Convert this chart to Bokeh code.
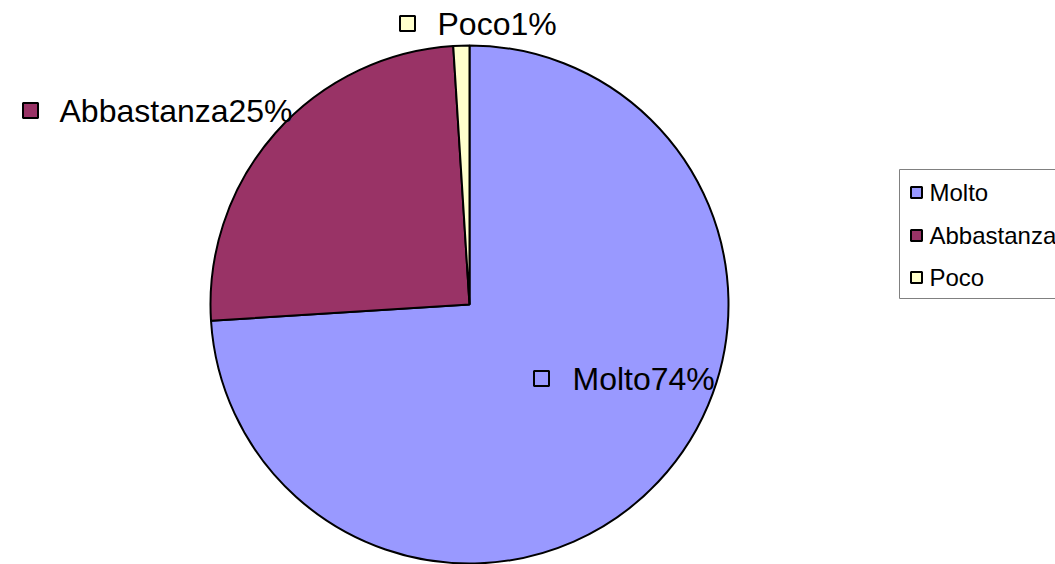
import numpy as np
from bokeh.plotting import figure
from bokeh.models import ColumnDataSource, Range1d
from bokeh.core.properties import value
from bokeh.embed import file_html
from bokeh.resources import INLINE

categories = ["Molto", "Abbastanza", "Poco"]
percent = [74, 25, 1]
colors = ["#9999FF", "#993366", "#FFFFCC"]

W, H = 1055, 564
p = figure(width=W, height=H, output_backend="svg", toolbar_location=None,
           x_range=Range1d(0, W), y_range=Range1d(H, 0), min_border=0)
p.axis.visible = False
p.grid.visible = False
p.outline_line_color = None

cx, cy, R = 469, 304, 259
frac = np.array(percent) / sum(percent)
cum = np.concatenate([[0], np.cumsum(frac)])
# clockwise from 12 o'clock (angles are screen-oriented)
start = np.pi / 2 - cum[1:] * 2 * np.pi
end = np.pi / 2 - cum[:-1] * 2 * np.pi
src = ColumnDataSource(dict(cat=categories, start=start, end=end, color=colors))
p.wedge(x=cx, y=cy, radius=R, start_angle="start", end_angle="end",
        fill_color="color", line_color="black", line_width=2, source=src)

# data labels (layout positions)
lab_sq_x = [541, 30, 407]
lab_y = [378, 110, 23]
lab_txt_x = [572, 59, 437]
labels = [f"{c}{v}%" for c, v in zip(categories, percent)]
p.scatter(x=lab_sq_x, y=lab_y, marker="square", size=15, fill_color=colors,
          line_color="black", line_width=2)
p.text(x=lab_txt_x, y=lab_y, text=labels, text_font=value("Liberation Sans"),
       text_font_size="32px", text_baseline="middle", text_align="left",
       text_color="black")

# legend
p.quad(left=899, right=W + 20, bottom=298, top=169, fill_color="white",
       line_color="#808080", line_width=1)
leg_y = [192, 235, 277]
p.scatter(x=[916] * 3, y=leg_y, marker="square", size=11, fill_color=colors,
          line_color="black", line_width=2)
p.text(x=[929] * 3, y=leg_y, text=categories, text_font=value("Liberation Sans"),
       text_font_size="24px", text_baseline="middle", text_align="left",
       text_color="black")

open("out.html", "w").write(file_html(p, INLINE))
